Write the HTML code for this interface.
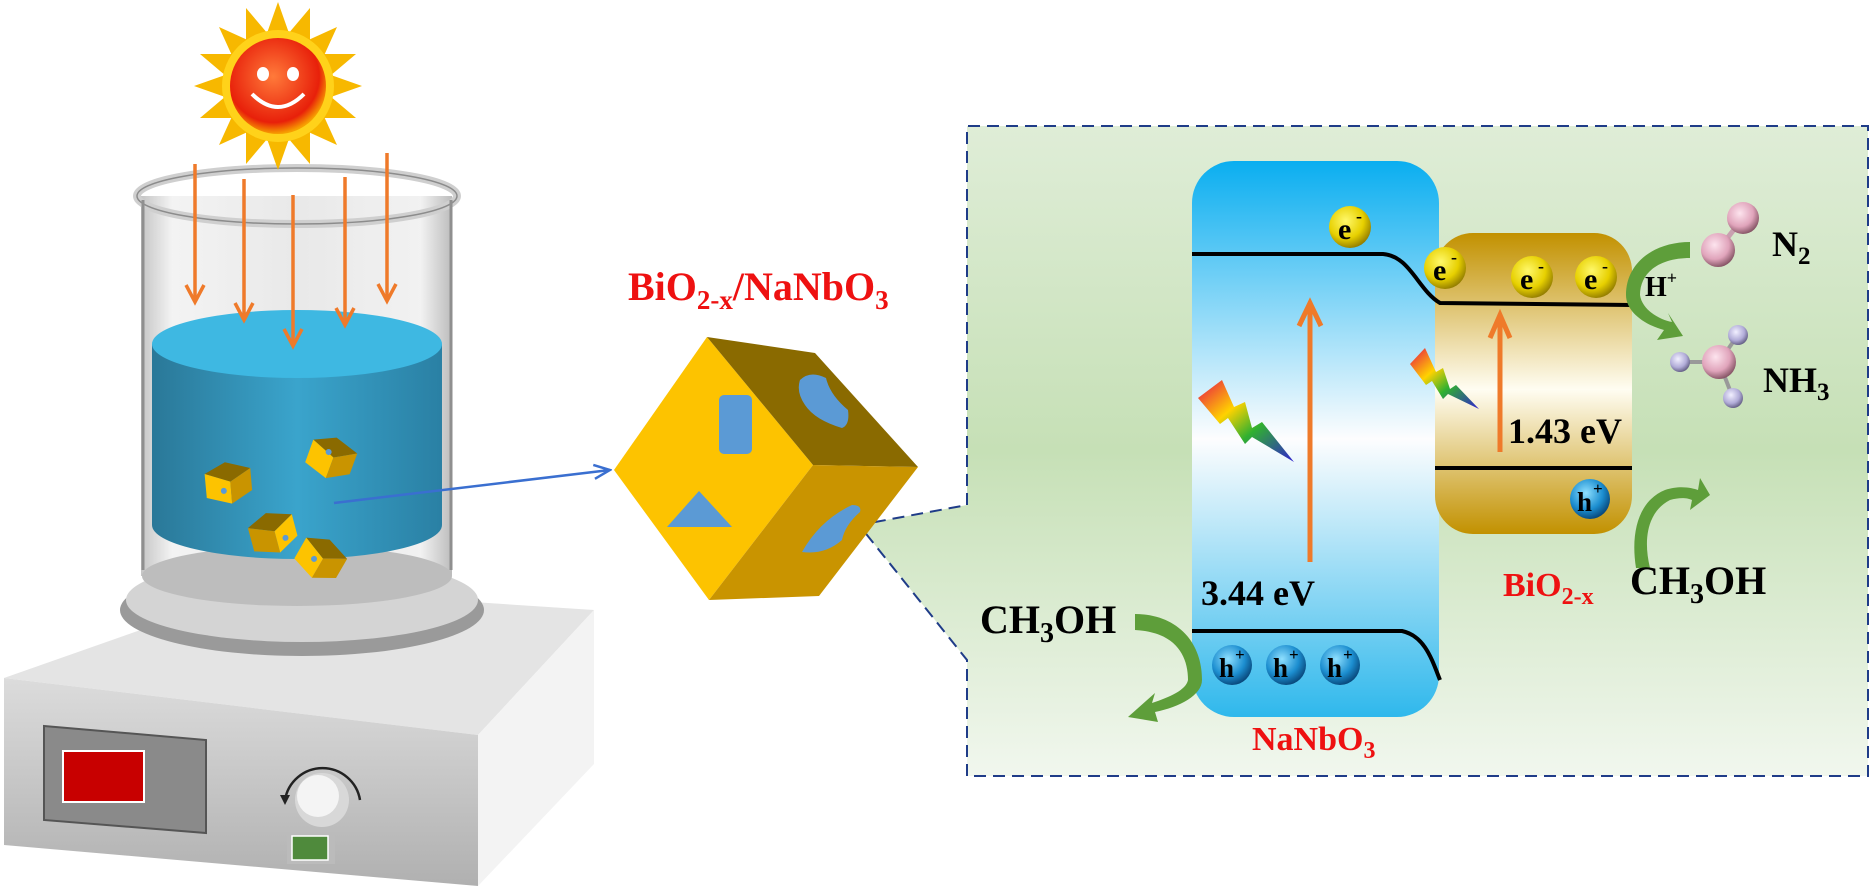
<!DOCTYPE html>
<html><head><meta charset="utf-8"><style>
html,body{margin:0;padding:0;background:#fff}
svg{display:block}
text{font-family:"Liberation Serif",serif;font-weight:bold}
</style></head><body>
<svg width="1873" height="886" viewBox="0 0 1873 886" xmlns="http://www.w3.org/2000/svg">
<defs>
<linearGradient id="gbg" x1="0" y1="0" x2="0" y2="1"><stop offset="0" stop-color="#dfedd7"/><stop offset="0.5" stop-color="#c6e0b6"/><stop offset="1" stop-color="#f1f7ee"/></linearGradient>
<linearGradient id="gblue" x1="0" y1="0" x2="0" y2="1"><stop offset="0" stop-color="#0aaef0"/><stop offset="0.5" stop-color="#fdfdfe"/><stop offset="1" stop-color="#2fb8ec"/></linearGradient>
<linearGradient id="ggold" x1="0" y1="0" x2="0" y2="1"><stop offset="0" stop-color="#c29100"/><stop offset="0.52" stop-color="#fffdf2"/><stop offset="1" stop-color="#c29100"/></linearGradient>
<radialGradient id="gel" cx="0.4" cy="0.35" r="0.7"><stop offset="0" stop-color="#fff86a"/><stop offset="0.6" stop-color="#e7d000"/><stop offset="1" stop-color="#8a7400"/></radialGradient>
<radialGradient id="gh" cx="0.4" cy="0.35" r="0.7"><stop offset="0" stop-color="#8fe0ff"/><stop offset="0.6" stop-color="#1c8ed0"/><stop offset="1" stop-color="#063f70"/></radialGradient>
<radialGradient id="gpk" cx="0.4" cy="0.35" r="0.7"><stop offset="0" stop-color="#fde4ee"/><stop offset="0.6" stop-color="#e0a4bb"/><stop offset="1" stop-color="#7a4a5a"/></radialGradient>
<radialGradient id="gpu" cx="0.4" cy="0.35" r="0.7"><stop offset="0" stop-color="#f2f0ff"/><stop offset="0.6" stop-color="#b1acd8"/><stop offset="1" stop-color="#5a557a"/></radialGradient>
<radialGradient id="gsun" cx="0.45" cy="0.4" r="0.6"><stop offset="0" stop-color="#ff7a3a"/><stop offset="0.8" stop-color="#e8200a"/><stop offset="1" stop-color="#f7a000"/></radialGradient>
<linearGradient id="grain" x1="0" y1="0" x2="1" y2="1"><stop offset="0" stop-color="#e8104a"/><stop offset="0.35" stop-color="#ffd200"/><stop offset="0.6" stop-color="#30b030"/><stop offset="1" stop-color="#3020d0"/></linearGradient>
<linearGradient id="gwater" x1="0" y1="0" x2="1" y2="0"><stop offset="0" stop-color="#2a7898"/><stop offset="0.5" stop-color="#3aa4cc"/><stop offset="1" stop-color="#2a80a4"/></linearGradient>
<linearGradient id="gglass" x1="0" y1="0" x2="1" y2="0"><stop offset="0" stop-color="#bfbfbf"/><stop offset="0.1" stop-color="#f2f2f2"/><stop offset="0.5" stop-color="#e6e6e6"/><stop offset="0.9" stop-color="#f0f0f0"/><stop offset="1" stop-color="#b5b5b5"/></linearGradient>
<linearGradient id="gfront" x1="0" y1="0" x2="0" y2="1"><stop offset="0" stop-color="#dcdcdc"/><stop offset="1" stop-color="#b0b0b0"/></linearGradient>
<marker id="ob" markerWidth="24" markerHeight="24" refX="20" refY="12" orient="auto" markerUnits="userSpaceOnUse"><path d="M3,3 L20,12 L3,21" fill="none" stroke="#ef7a2a" stroke-width="3.5"/></marker>
<marker id="bl" markerWidth="20" markerHeight="20" refX="18" refY="10" orient="auto" markerUnits="userSpaceOnUse"><path d="M2,3 L18,10 L2,17" fill="none" stroke="#3a6fd0" stroke-width="2.5"/></marker>
</defs>

<!-- green callout -->
<polygon points="967,126 1868,126 1868,776 967,776 967,660 859,525 967,505" fill="url(#gbg)"/>
<polyline points="967,505 967,126 1868,126 1868,776 967,776 967,660 859,525 967,505" fill="none" stroke="#1f3c88" stroke-width="2" stroke-dasharray="12,7"/>

<!-- hotplate -->
<polygon points="4,678 260,588 594,610 478,735" fill="#e4e4e4"/>
<polygon points="4,678 478,735 478,886 4,845" fill="url(#gfront)"/>
<polygon points="478,735 594,610 594,764 478,886" fill="#f3f3f3"/>
<polygon points="44,726 206,740 206,833 44,820" fill="#8a8a8a" stroke="#555" stroke-width="2"/>
<rect x="63" y="751" width="81" height="51" fill="#c80000" stroke="#fff" stroke-width="2"/>
<path d="M285,800 A38,38 0 0 1 360,800" fill="none" stroke="#222" stroke-width="2.5"/>
<path d="M280,795 l5,10 l5,-10z" fill="#222"/>
<circle cx="322" cy="800" r="27" fill="#d8d8d8"/><circle cx="318" cy="796" r="21" fill="#f4f4f4"/>
<rect x="287" y="832" width="48" height="32" fill="#bbb"/>
<rect x="292" y="836" width="36" height="24" fill="#4f8a3c" stroke="#fff" stroke-width="1.5"/>

<!-- plate -->
<ellipse cx="302" cy="610" rx="182" ry="46" fill="#9a9a9a"/>
<ellipse cx="302" cy="600" rx="176" ry="42" fill="#d4d4d4"/>
<!-- beaker -->
<rect x="141" y="196" width="311" height="380" fill="url(#gglass)" opacity="0.9"/>
<ellipse cx="297" cy="576" rx="155" ry="30" fill="#bdbdbd"/>
<!-- water -->
<path d="M152,344 L152,525 A145,34 0 0 0 442,525 L442,344 Z" fill="url(#gwater)"/>
<ellipse cx="297" cy="344" rx="145" ry="34" fill="#3eb8e2"/>
<ellipse cx="297" cy="196" rx="160" ry="28" fill="none" stroke="#cfcfcf" stroke-width="8"/>
<ellipse cx="297" cy="196" rx="160" ry="28" fill="none" stroke="#8c8c8c" stroke-width="1.5"/>
<line x1="143" y1="200" x2="143" y2="570" stroke="#8f8f8f" stroke-width="3"/>
<line x1="451" y1="200" x2="451" y2="570" stroke="#8f8f8f" stroke-width="3"/>
<!-- small cubes -->
<g transform="translate(228,480) rotate(-10)"><polygon points="-22,-10 0,-18 24,-8 2,2" fill="#8a6a00"/><polygon points="-22,-10 2,2 0,24 -24,14" fill="#fdc300"/><polygon points="2,2 24,-8 22,14 0,24" fill="#c99400"/><circle cx="-6" cy="10" r="3" fill="#5b9ad5"/></g>
<g transform="translate(332,455) rotate(15)"><polygon points="-22,-10 0,-18 24,-8 2,2" fill="#8a6a00"/><polygon points="-22,-10 2,2 0,24 -24,14" fill="#fdc300"/><polygon points="2,2 24,-8 22,14 0,24" fill="#c99400"/><circle cx="-4" cy="-2" r="3" fill="#5b9ad5"/></g>
<g transform="translate(272,530) rotate(-20)"><polygon points="-22,-10 0,-18 24,-8 2,2" fill="#8a6a00"/><polygon points="-22,-10 2,2 0,24 -24,14" fill="#c99400"/><polygon points="2,2 24,-8 22,14 0,24" fill="#fdc300"/><circle cx="10" cy="12" r="3" fill="#5b9ad5"/></g>
<g transform="translate(322,556) rotate(25)"><polygon points="-22,-10 0,-18 24,-8 2,2" fill="#8a6a00"/><polygon points="-22,-10 2,2 0,24 -24,14" fill="#fdc300"/><polygon points="2,2 24,-8 22,14 0,24" fill="#c99400"/><circle cx="-6" cy="6" r="3" fill="#5b9ad5"/></g>
<line x1="334" y1="503" x2="610" y2="470" stroke="#3a6fd0" stroke-width="2.5" marker-end="url(#bl)"/>

<!-- sun -->
<g transform="translate(278,86)">
<g fill="#f7b800">
<polygon points="0,-84 12,-50 -12,-50"/><polygon points="0,84 12,50 -12,50"/><polygon points="-84,0 -50,12 -50,-12"/><polygon points="84,0 50,12 50,-12"/>
<polygon points="59,-59 44,-26 26,-44"/><polygon points="-59,59 -44,26 -26,44"/><polygon points="59,59 26,44 44,26"/><polygon points="-59,-59 -26,-44 -44,-26"/>
<polygon points="32,-78 32,-42 10,-52" /><polygon points="-32,78 -32,42 -10,52"/><polygon points="78,32 42,32 52,10"/><polygon points="-78,-32 -42,-32 -52,-10"/>
<polygon points="-32,-78 -10,-52 -32,-42"/><polygon points="32,78 10,52 32,42"/><polygon points="78,-32 52,-10 42,-32"/><polygon points="-78,32 -52,10 -42,32"/>
</g>
<circle r="56" fill="#ffd21a"/>
<circle r="48" fill="url(#gsun)"/>
<ellipse cx="-15" cy="-12" rx="6" ry="7" fill="#fff"/><ellipse cx="15" cy="-12" rx="6" ry="7" fill="#fff"/>
<path d="M-26,8 Q0,34 26,8" fill="none" stroke="#fff" stroke-width="4"/>
</g>
<!-- light arrows -->
<g stroke="#ef7a2a" stroke-width="3.5" marker-end="url(#ob)">
<line x1="195" y1="164" x2="195" y2="302"/><line x1="244" y1="179" x2="244" y2="320"/><line x1="293" y1="195" x2="293" y2="346"/><line x1="345" y1="177" x2="345" y2="325"/><line x1="387" y1="153" x2="387" y2="301"/>
</g>

<!-- label and cube -->
<text x="628" y="300" font-size="40" fill="#ee1111">BiO<tspan font-size="27" dy="9">2-x</tspan><tspan dy="-9">/NaNbO</tspan><tspan font-size="27" dy="9">3</tspan></text>
<polygon points="707,337 813,465 709,600 614,470" fill="#fdc300"/>
<polygon points="707,337 815,353 918,467 813,465" fill="#8a6a00"/>
<polygon points="813,465 918,467 819,596 709,600" fill="#c99400"/>
<rect x="719" y="395" width="33" height="59" rx="5" fill="#5b9ad5"/>
<polygon points="667,527 699,491 732,527" fill="#5b9ad5"/>
<path d="M800,380 Q810,370 826,378 Q830,395 848,410 Q850,425 842,428 Q815,420 805,405 Q796,392 800,380Z" fill="#5b9ad5"/>
<path d="M802,552 Q820,520 852,505 Q862,505 860,512 Q845,525 842,540 Q825,555 802,552Z" fill="#5b9ad5"/>

<!-- bands -->
<rect x="1192" y="161" width="247" height="556" rx="42" fill="url(#gblue)"/>
<rect x="1435" y="233" width="197" height="301" rx="38" fill="url(#ggold)"/>
<g fill="none" stroke="#000" stroke-width="4">
<path d="M1192,254 L1383,254 C1410,256 1418,290 1440,303 L1632,305"/>
<path d="M1435,468 L1632,468"/>
<path d="M1192,631 L1402,631 C1425,636 1432,660 1440,680"/>
</g>
<g stroke="#ef7a2a" stroke-width="5" fill="none">
<line x1="1310" y1="562" x2="1310" y2="306"/><path d="M1299,326 L1310,303 L1321,326"/>
<line x1="1500" y1="452" x2="1500" y2="318"/><path d="M1490,338 L1500,315 L1510,338"/>
</g>
<polygon points="1198,398 1222,380 1234,407 1245,402 1252,428 1262,422 1294,462 1252,437 1245,444 1228,418 1220,424" fill="url(#grain)"/>
<polygon points="1410,364 1425,348 1436,372 1443,368 1450,389 1456,385 1479,409 1448,394 1443,399 1432,381 1426,385" fill="url(#grain)"/>
<!-- electrons -->
<g>
<circle cx="1350" cy="227" r="21" fill="url(#gel)"/><text x="1338" y="239" font-size="30" font-family="Liberation Sans,sans-serif" font-weight="normal">e</text><text x="1356" y="222" font-size="18" font-weight="normal" font-family="Liberation Sans,sans-serif">-</text>
<circle cx="1445" cy="268" r="21" fill="url(#gel)"/><text x="1433" y="280" font-size="30" font-weight="normal" font-family="Liberation Sans,sans-serif">e</text><text x="1451" y="263" font-size="18" font-weight="normal" font-family="Liberation Sans,sans-serif">-</text>
<circle cx="1532" cy="277" r="21" fill="url(#gel)"/><text x="1520" y="289" font-size="30" font-weight="normal" font-family="Liberation Sans,sans-serif">e</text><text x="1538" y="272" font-size="18" font-weight="normal" font-family="Liberation Sans,sans-serif">-</text>
<circle cx="1596" cy="277" r="21" fill="url(#gel)"/><text x="1584" y="289" font-size="30" font-weight="normal" font-family="Liberation Sans,sans-serif">e</text><text x="1602" y="272" font-size="18" font-weight="normal" font-family="Liberation Sans,sans-serif">-</text>
</g>
<g>
<circle cx="1590" cy="499" r="20" fill="url(#gh)"/><text x="1577" y="511" font-size="27" font-family="Liberation Sans,sans-serif" font-weight="normal">h</text><text x="1593" y="494" font-size="17" font-family="Liberation Sans,sans-serif" font-weight="normal">+</text>
<circle cx="1232" cy="665" r="20" fill="url(#gh)"/><text x="1219" y="677" font-size="27" font-family="Liberation Sans,sans-serif" font-weight="normal">h</text><text x="1235" y="660" font-size="17" font-family="Liberation Sans,sans-serif" font-weight="normal">+</text>
<circle cx="1286" cy="665" r="20" fill="url(#gh)"/><text x="1273" y="677" font-size="27" font-family="Liberation Sans,sans-serif" font-weight="normal">h</text><text x="1289" y="660" font-size="17" font-family="Liberation Sans,sans-serif" font-weight="normal">+</text>
<circle cx="1340" cy="665" r="20" fill="url(#gh)"/><text x="1327" y="677" font-size="27" font-family="Liberation Sans,sans-serif" font-weight="normal">h</text><text x="1343" y="660" font-size="17" font-family="Liberation Sans,sans-serif" font-weight="normal">+</text>
</g>
<!-- green arrows -->
<g fill="#5e9e3a">
<path d="M1690,242 L1690,258 C1660,258 1640,272 1640,295 C1642,310 1660,320 1672,322 L1668,313 L1683,336 L1657,340 L1664,330 C1645,325 1626,312 1626,295 C1626,262 1655,242 1690,242Z"/>
<path d="M1650,568 L1636,568 C1630,530 1640,500 1665,490 C1680,485 1692,488 1698,490 L1700,478 L1710,495 L1690,510 L1692,500 C1688,498 1680,497 1670,500 C1650,510 1642,535 1650,568Z"/>
<path d="M1135,614 L1135,630 C1175,632 1188,655 1188,680 C1186,690 1170,697 1152,703 L1155,693 L1128,717 L1158,722 L1155,712 C1180,707 1202,695 1202,680 C1202,640 1175,614 1135,614Z"/>
</g>
<!-- molecules -->
<line x1="1743" y1="218" x2="1718" y2="250" stroke="#c9a0b0" stroke-width="5"/>
<circle cx="1743" cy="218" r="16" fill="url(#gpk)"/><circle cx="1718" cy="250" r="17" fill="url(#gpk)"/>
<g stroke="#999" stroke-width="4"><line x1="1719" y1="362" x2="1738" y2="335"/><line x1="1719" y1="362" x2="1680" y2="362"/><line x1="1719" y1="362" x2="1733" y2="398"/></g>
<circle cx="1738" cy="335" r="10" fill="url(#gpu)"/><circle cx="1680" cy="362" r="10" fill="url(#gpu)"/><circle cx="1733" cy="398" r="10" fill="url(#gpu)"/>
<circle cx="1719" cy="362" r="17" fill="url(#gpk)"/>
<!-- texts -->
<text x="1772" y="256" font-size="36">N<tspan font-size="25" dy="8">2</tspan></text>
<text x="1763" y="392" font-size="36">NH<tspan font-size="25" dy="8">3</tspan></text>
<text x="1645" y="296" font-size="28">H<tspan font-size="18" dy="-12">+</tspan></text>
<text x="1201" y="605" font-size="36">3.44 eV</text>
<text x="1508" y="443" font-size="36">1.43 eV</text>
<text x="1503" y="596" font-size="34" fill="#ee1111">BiO<tspan font-size="24" dy="8">2-x</tspan></text>
<text x="1630" y="594" font-size="40">CH<tspan font-size="28" dy="9">3</tspan><tspan dy="-9">OH</tspan></text>
<text x="980" y="633" font-size="40">CH<tspan font-size="28" dy="9">3</tspan><tspan dy="-9">OH</tspan></text>
<text x="1252" y="750" font-size="34" fill="#ee1111">NaNbO<tspan font-size="24" dy="8">3</tspan></text>
</svg>
</body></html>
